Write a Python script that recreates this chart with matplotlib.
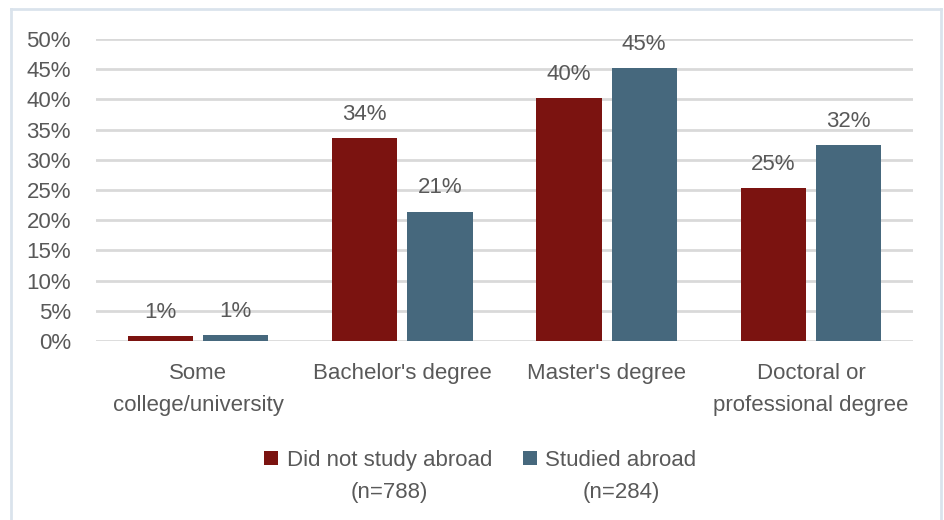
import matplotlib
matplotlib.use('Agg')
import matplotlib.pyplot as plt
from matplotlib.lines import Line2D
import numpy as np

categories = ['Some\ncollege/university', "Bachelor's degree", "Master's degree",
              'Doctoral or\nprofessional degree']
not_abroad = [0.8, 33.6, 40.2, 25.3]
abroad = [1.0, 21.4, 45.2, 32.4]
series_names = ['Did not study abroad', 'Studied abroad']
series_n = ['(n=788)', '(n=284)']
yticks = list(range(0, 51, 5))

RED = '#7B1310'
BLUE = '#46687D'
TXT = '#595959'
GRID = '#D9D9D9'
FS = 16
plt.rcParams['font.family'] = ['Liberation Sans', 'DejaVu Sans']

fig = plt.figure(figsize=(9.44, 5.2), dpi=100)
ax = fig.add_axes([0.1017, 0.3442, 0.8655, 0.5808])

x = np.arange(len(categories))
w = 0.32
off = 0.184
b1 = ax.bar(x - off, not_abroad, w, color=RED, label=series_names[0], zorder=3)
b2 = ax.bar(x + off, abroad, w, color=BLUE, label=series_names[1], zorder=3)

for bars, vals in ((b1, not_abroad), (b2, abroad)):
    for r, v in zip(bars, vals):
        ax.annotate(f'{v:.0f}%', (r.get_x() + r.get_width() / 2, v),
                    xytext=(0, 13.3), textcoords='offset points',
                    ha='center', va='baseline', fontsize=FS, color=TXT)

ax.set_xlim(-0.5, len(categories) - 0.5)
ax.set_ylim(0, 50)
ax.set_yticks(yticks)
ax.set_yticklabels([f'{t}%' for t in yticks])
ax.set_xticks(x)
ax.set_xticklabels(categories, linespacing=1.65)
ax.tick_params(axis='y', length=0, pad=18, labelsize=FS, labelcolor=TXT)
ax.tick_params(axis='x', length=0, pad=16, labelsize=FS, labelcolor=TXT)
ax.grid(axis='y', color=GRID, linewidth=2, zorder=0)
for s in ax.spines.values():
    s.set_visible(False)

leg = fig.legend(handles=[b1, b2], loc='center', bbox_to_anchor=(0.509, 0.115),
                 ncol=2, frameon=False, fontsize=FS, handlelength=0.6,
                 handleheight=0.6, handletextpad=0.4, columnspacing=1.4)
for t in leg.get_texts():
    t.set_color(TXT)

# second line of each legend entry, centred under its label
fig.canvas.draw()
r = fig.canvas.get_renderer()
for t, n in zip(leg.get_texts(), series_n):
    bb = t.get_window_extent(r).transformed(fig.transFigure.inverted())
    fig.text((bb.x0 + bb.x1) / 2, (bb.y0 + bb.y1) / 2 - 32 / 520, n,
             ha='center', va='center', fontsize=FS, color=TXT)

# light frame around the chart
bc = '#DAE3EC'
for xs, ys in (([10.5, 10.5], [0, 511]), ([10.5, 940.5], [511, 511]), ([940.5, 940.5], [0, 511])):
    fig.add_artist(Line2D([v / 944 for v in xs], [v / 520 for v in ys],
                          transform=fig.transFigure, color=bc, linewidth=2))

fig.savefig('out.png', dpi=100)
